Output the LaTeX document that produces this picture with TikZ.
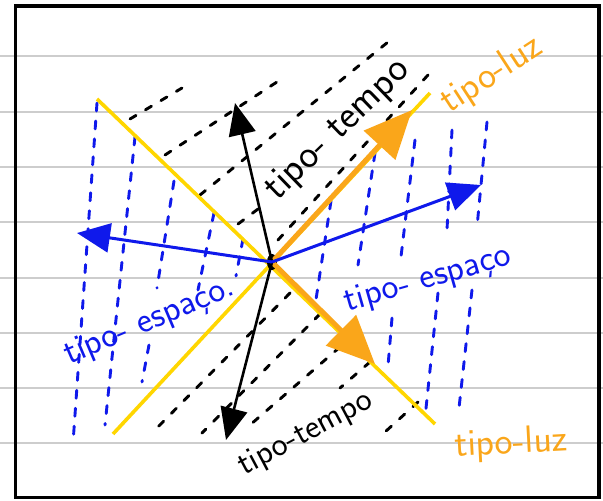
\documentclass[tikz,border=0pt]{standalone}
\usepackage{fontspec}
\usetikzlibrary{arrows.meta,shapes.geometric}
\begin{document}
\begin{tikzpicture}[
    x=1pt, y=-1pt,
    rule/.style={draw=rulegray, line width=1.6pt},
    cone/.style={draw=coneyellow, line width=3.6pt},
    timegrid/.style={draw=black, line width=2.9pt, line cap=round, dash pattern=on 7pt off 11pt},
    spacegrid/.style={draw=spaceblue, line width=2.9pt, line cap=round, dash pattern=on 8pt off 10pt},
    luzarrow/.style={draw=luzorange, line width=5pt, -{Triangle[length=48pt, width=42pt]}},
    tempoarrow/.style={draw=black, line width=2.6pt, -{Triangle[length=32pt, width=27pt]}},
    espacoarrow/.style={draw=spaceblue, line width=3pt, -{Triangle[length=33pt, width=29pt]}},
    hand/.style={inner sep=0pt, font=\sffamily\fontsize{#1}{#1}\selectfont},
]
\definecolor{rulegray}{RGB}{205,205,205}
\definecolor{coneyellow}{RGB}{255,214,0}
\definecolor{luzorange}{RGB}{250,166,26}
\definecolor{spaceblue}{RGB}{15,25,235}

% ======================
% Paper and frame
% ======================
\useasboundingbox (0,0) rectangle (603,501);
\fill[white] (0,0) rectangle (603,501);
\foreach \y in {56,112,167,222,278,333,388,443} {
    \draw[rule] (0,\y) -- (603,\y);
}
\draw[line width=3.2pt] (15.5,6) rectangle (599,497.5);

% ======================
% Space-like grid (blue)
% ======================
\foreach \xa/\ya/\xb/\yb in {97/103/73/443, 135/137/105/425, 174/181/157/288,
    149/345/142/382, 214/213/198/290, 243/239/236/276,
    331/201/315/306, 375/153/358/265, 415/140/400/265, 392/318/388/366,
    452/130/447/230, 438/293/425/418, 487/122/477/227, 472/290/459/408} {
    \draw[spacegrid] (\xa,\ya) -- (\xb,\yb);
}

% ======================
% Time-like grid (black)
% ======================
\foreach \xa/\ya/\xb/\yb in {130/119/182/88, 165/155/280/80, 200/195/388/42,
    238/224/262/206, 278/240/428/75,
    290/293/153/432, 320/314/202/433, 340/347/250/425,
    370/362/340/388, 418/402/385/432} {
    \draw[timegrid] (\xa,\ya) -- (\xb,\yb);
}

% ======================
% Light cone
% ======================
\coordinate (C1) at (97,99);
\coordinate (C2) at (435,424);
\coordinate (C3) at (113,434);
\coordinate (C4) at (430,93);
\draw[cone] (C1) -- (C2);
\draw[cone] (C3) -- (C4);

% ======================
% Vectors from the event
% ======================
\node[ellipse, fill=black, minimum width=10pt, minimum height=16pt, inner sep=0pt] (O) at (272,262) {};
\coordinate (LU) at (412,110);
\coordinate (LD) at (375,364);
\coordinate (TU) at (235,103);
\coordinate (TD) at (226,440);
\coordinate (SL) at (77,233);
\coordinate (SR) at (481,185);

\draw[luzarrow] (O.center) -- (LU);
\draw[luzarrow] (O.center) -- (LD);
\draw[tempoarrow] (O.center) -- (TU);
\draw[tempoarrow] (O.center) -- (TD);
\draw[espacoarrow] (O.center) -- (SL);
\draw[espacoarrow] (O.center) -- (SR);

% ======================
% Labels
% ======================
\node[hand=40, rotate=44] (tempoU) at (338,130) {tipo- tempo};
\node[hand=34, rotate=28] (tempoD) at (306,434) {tipo-tempo};
\node[hand=38, rotate=33, luzorange] (luzU) at (492,75) {tipo-luz};
\node[hand=38, rotate=3, luzorange] (luzD) at (511,444) {tipo-luz};
\node[hand=36, rotate=23, spaceblue] (espacoL) at (150,322) {tipo- espaço.};
\node[hand=36, rotate=16, spaceblue] (espacoR) at (428,280) {tipo- espaço};

\end{tikzpicture}
\end{document}
